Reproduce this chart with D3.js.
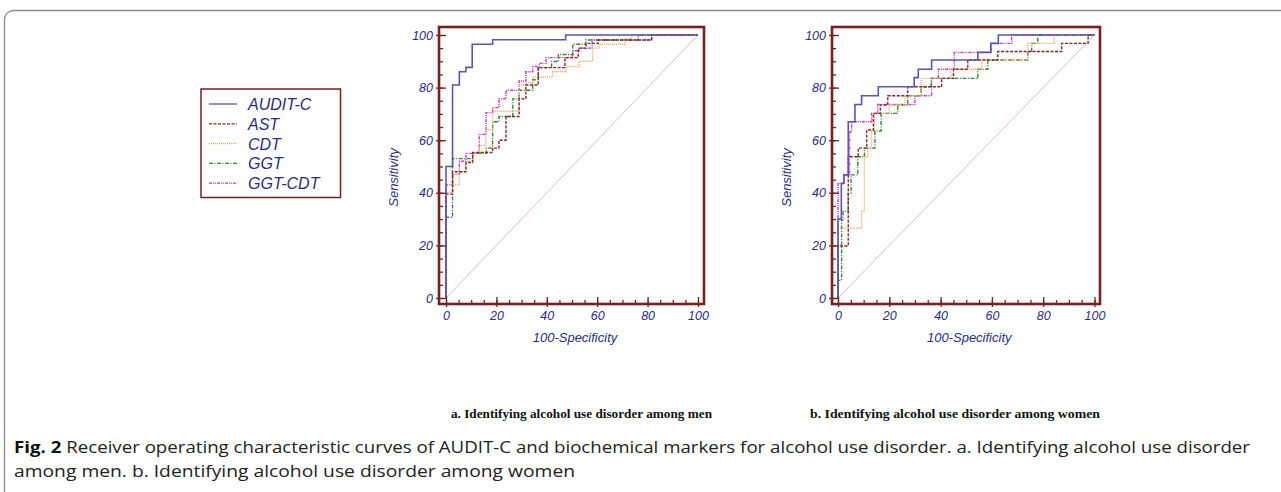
<!DOCTYPE html>
<html>
<head>
<meta charset="utf-8">
<script src="https://cdn.jsdelivr.net/npm/d3@7"></script>
<style>
  body { margin: 0; background: #fff; }
  svg { display: block; }
  .tick text { font-family: "Liberation Sans", Arial, sans-serif; font-style: italic; }
</style>
</head>
<body>
<div id="chart-area"></div>
<script>
// ROC operating points: [100-Specificity, Sensitivity], one per step
const seriesNames = ["AUDIT-C", "AST", "CDT", "GGT", "GGT-CDT"];

const menAuditC = [[0,0],[0,50],[2.6,81],[5.3,86],[7.9,87.7],[10.4,96.5],[18.5,98.2],[47.5,100],[100,100]];
const menAst = [[0,0],[0,39.5],[2.6,48],[7.9,51.5],[10.6,55.3],[18.5,57],[21,60],[23.8,69],[29,75.7],[31.7,81],[36.6,87.6],[47.2,91.4],[52.5,95],[55.6,96.8],[60.4,98.1],[81.6,100],[100,100]];
const menCdt = [[0,0],[0,40],[2.6,43],[5.3,48],[7.9,52],[10.5,55],[13,58],[15.8,64],[18.5,71],[29,81],[31.7,82],[34.4,84],[42.3,86],[47.6,88],[52.8,90],[58.2,95],[60.8,96.5],[71,98.5],[73.7,100],[100,100]];
const menGgt = [[0,0],[0,30.7],[2.6,53],[10.6,55],[16,57],[18.5,67],[21,69],[26.5,75.7],[29,79],[34.4,83],[36.6,87.6],[41.9,89.9],[44.6,92.6],[50.3,96.5],[55.4,98.1],[76.3,100],[100,100]];
const menGgtCdt = [[0,0],[0,43],[2.6,47],[5.3,52],[7.9,55],[13.2,62.2],[15.9,70.5],[18.5,72.4],[21,75.7],[23.8,79],[29,82.5],[31.7,86],[34.4,88],[37,89.2],[39.7,91.4],[50.3,94],[52.9,95],[58,98.1],[81.6,100],[100,100]];

const womenAuditC = [[0,0],[0,30],[1.3,43.6],[2.3,46.8],[4,67],[6.6,73.6],[9.2,76.9],[15.7,80.3],[29.7,83.8],[31.3,87],[36.5,90.5],[54.5,93.4],[59.6,96.8],[62.5,100],[100,100]];
const womenAst = [[0,0],[0,19.8],[4,53.7],[7.9,57],[11.2,63.9],[13.8,70.2],[16.5,73.4],[19.4,76.9],[27.2,80.3],[40.4,83.5],[45,87],[50.6,90.5],[62.3,93.7],[87.2,96.8],[97.5,100],[100,100]];
const womenCdt = [[0,0],[0,26.5],[9.2,33],[10.3,53.7],[11.6,57],[13.1,63.5],[14.2,70.2],[20,73.4],[26.1,76.9],[32.4,83.5],[44,87],[56,90.5],[74,96.8],[84.3,100],[100,100]];
const womenGgt = [[0,0],[0,6.7],[1.4,29.7],[2,33],[4,39.8],[5.1,46.8],[7.7,53.7],[10.3,57],[14.4,63.5],[16.8,70.2],[23.3,73.4],[27.2,76.9],[32.4,80.3],[36.3,83.5],[54.5,87],[58.4,90.5],[74,93.7],[75.5,96.8],[77.9,100],[100,100]];
const womenGgtCdt = [[0,0],[0,43.6],[2.3,46.8],[4.5,63],[5.3,67],[13.1,70.2],[15.5,73.6],[30,76.9],[36.5,83.5],[39.1,87],[45.3,93.4],[59.6,96.8],[67.7,100],[100,100]];

const majorTicks = [0, 20, 40, 60, 80, 100];
const minorTicks = [0,5,10,15,20,25,30,35,40,45,50,55,60,65,70,75,80,85,90,95,100];
const diagonal = [[0,0],[100,100]];

const panelTitles = ["a. Identifying alcohol use disorder among men", "b. Identifying alcohol use disorder among women"];
const captionBold = "Fig. 2";
const captionLine1 = " Receiver operating characteristic curves of AUDIT-C and biochemical markers for alcohol use disorder. a. Identifying alcohol use disorder";
const captionLine2 = "among men. b. Identifying alcohol use disorder among women";

// styles per series
const colors = ["#5656b4", "#8b2525", "#f5a263", "#2f8a2f", "#cc33cc"];
const dashes = [null, "3,1.5", "1,1", "4,1.5,1,1.5", "3,1,1,1,1,1"];
const frameColor = "#7a1f1f";
const labelColor = "#2b2b8c";

const svg = d3.select("#chart-area").append("svg")
    .attr("width", 1281)
    .attr("height", 492);

// outer figure frame
svg.append("rect")
    .attr("x", 4.5).attr("y", 10.5)
    .attr("width", 1320).attr("height", 600)
    .attr("rx", 9)
    .attr("fill", "none")
    .attr("stroke", "#8c8c8c")
    .attr("stroke-width", 1.3);

const panels = [
    { frame: [439, 27, 704, 304], xr: [446, 698], yr: [298, 35], title: panelTitles[0], titleX: 451, titleW: 261,
      data: [menAuditC, menAst, menCdt, menGgt, menGgtCdt] },
    { frame: [832, 27, 1100, 304], xr: [838, 1094.5], yr: [298, 35], title: panelTitles[1], titleX: 810, titleW: 290,
      data: [womenAuditC, womenAst, womenCdt, womenGgt, womenGgtCdt] }
];

panels.forEach(function(p) {
    const x = d3.scaleLinear().domain([0, 100]).range(p.xr);
    const y = d3.scaleLinear().domain([0, 100]).range(p.yr);
    const [fx0, fy0, fx1, fy1] = p.frame;
    const g = svg.append("g");

    const line = d3.line()
        .x(d => x(d[0]))
        .y(d => y(d[1]));

    // reference diagonal
    g.append("path")
        .datum(diagonal)
        .attr("d", line)
        .attr("fill", "none")
        .attr("stroke", "#e6bcbc")
        .attr("stroke-width", 1);

    // ROC curves, drawn bottom to top so AUDIT-C ends on top
    const stepLine = line.curve(d3.curveStepAfter);
    [4, 3, 2, 1, 0].forEach(function(i) {
        g.append("path")
            .datum(p.data[i])
            .attr("d", stepLine)
            .attr("fill", "none")
            .attr("stroke", colors[i])
            .attr("stroke-width", i === 0 ? 1.6 : 1.4)
            .attr("stroke-dasharray", dashes[i]);
    });

    // frame
    g.append("rect")
        .attr("x", fx0).attr("y", fy0)
        .attr("width", fx1 - fx0).attr("height", fy1 - fy0)
        .attr("fill", "none")
        .attr("stroke", frameColor)
        .attr("stroke-width", 2.6);

    // y axis: labels + outside ticks
    g.append("g")
        .attr("transform", `translate(${fx0},0)`)
        .call(d3.axisLeft(y).tickValues(majorTicks).tickSize(3).tickPadding(3));
    // inside ticks
    g.append("g")
        .attr("transform", `translate(${fx0},0)`)
        .call(d3.axisRight(y).tickValues(minorTicks).tickSize(4).tickFormat(""));
    g.append("g")
        .attr("transform", `translate(${fx0},0)`)
        .call(d3.axisRight(y).tickValues(majorTicks).tickSize(7).tickFormat(""));

    // x axis
    g.append("g")
        .attr("transform", `translate(0,${fy1})`)
        .call(d3.axisBottom(x).tickValues(majorTicks).tickSize(3).tickPadding(4));
    g.append("g")
        .attr("transform", `translate(0,${fy1})`)
        .call(d3.axisTop(x).tickValues(minorTicks).tickSize(4).tickFormat(""));
    g.append("g")
        .attr("transform", `translate(0,${fy1})`)
        .call(d3.axisTop(x).tickValues(majorTicks).tickSize(7).tickFormat(""));

    g.selectAll(".domain").remove();
    g.selectAll(".tick line")
        .attr("stroke", frameColor)
        .attr("stroke-width", 1.3);
    g.selectAll(".tick text")
        .attr("fill", labelColor)
        .attr("font-size", "12.5px");

    // axis labels
    g.append("text")
        .attr("transform", `translate(${fx0 - 41},${(fy0 + fy1) / 2 + 12}) rotate(-90)`)
        .attr("text-anchor", "middle")
        .attr("font-family", "Liberation Sans, Arial, sans-serif")
        .attr("font-style", "italic")
        .attr("font-size", "13px")
        .attr("fill", labelColor)
        .text("Sensitivity");

    g.append("text")
        .attr("x", (p.xr[0] + p.xr[1]) / 2 + 3)
        .attr("y", fy1 + 38)
        .attr("text-anchor", "middle")
        .attr("font-family", "Liberation Sans, Arial, sans-serif")
        .attr("font-style", "italic")
        .attr("font-size", "13px")
        .attr("fill", labelColor)
        .text("100-Specificity");

    // panel subtitle
    svg.append("text")
        .attr("x", p.titleX)
        .attr("y", 418)
        .attr("font-family", "Liberation Serif, Times New Roman, serif")
        .attr("font-weight", "bold")
        .attr("font-size", "12.5px")
        .attr("fill", "#111")
        .attr("textLength", p.titleW)
        .attr("lengthAdjust", "spacingAndGlyphs")
        .text(p.title);
});

// legend
const legend = svg.append("g");
legend.append("rect")
    .attr("x", 201).attr("y", 89)
    .attr("width", 139.5).attr("height", 108.5)
    .attr("fill", "#fff")
    .attr("stroke", frameColor)
    .attr("stroke-width", 1.5);

seriesNames.forEach(function(name, i) {
    const ly = 104 + i * 19.8;
    legend.append("line")
        .attr("x1", 209).attr("x2", 237)
        .attr("y1", ly).attr("y2", ly)
        .attr("stroke", colors[i])
        .attr("stroke-width", 1.3)
        .attr("stroke-dasharray", dashes[i]);
    legend.append("text")
        .attr("x", 248)
        .attr("y", ly + 6)
        .attr("font-family", "Liberation Sans, Arial, sans-serif")
        .attr("font-style", "italic")
        .attr("font-size", "16px")
        .attr("fill", "#2a2a8a")
        .text(name);
});

// caption
const cap1 = svg.append("text")
    .attr("x", 14).attr("y", 453)
    .attr("font-family", "Open Sans, sans-serif")
    .attr("font-size", "16px")
    .attr("fill", "#222")
    .attr("textLength", 1236)
    .attr("lengthAdjust", "spacingAndGlyphs");
cap1.append("tspan").attr("font-weight", "bold").attr("fill", "#111").text(captionBold);
cap1.append("tspan").text(captionLine1);

svg.append("text")
    .attr("x", 14).attr("y", 477)
    .attr("font-family", "Open Sans, sans-serif")
    .attr("font-size", "16px")
    .attr("fill", "#222")
    .attr("textLength", 561)
    .attr("lengthAdjust", "spacingAndGlyphs")
    .text(captionLine2);
</script>
</body>
</html>
